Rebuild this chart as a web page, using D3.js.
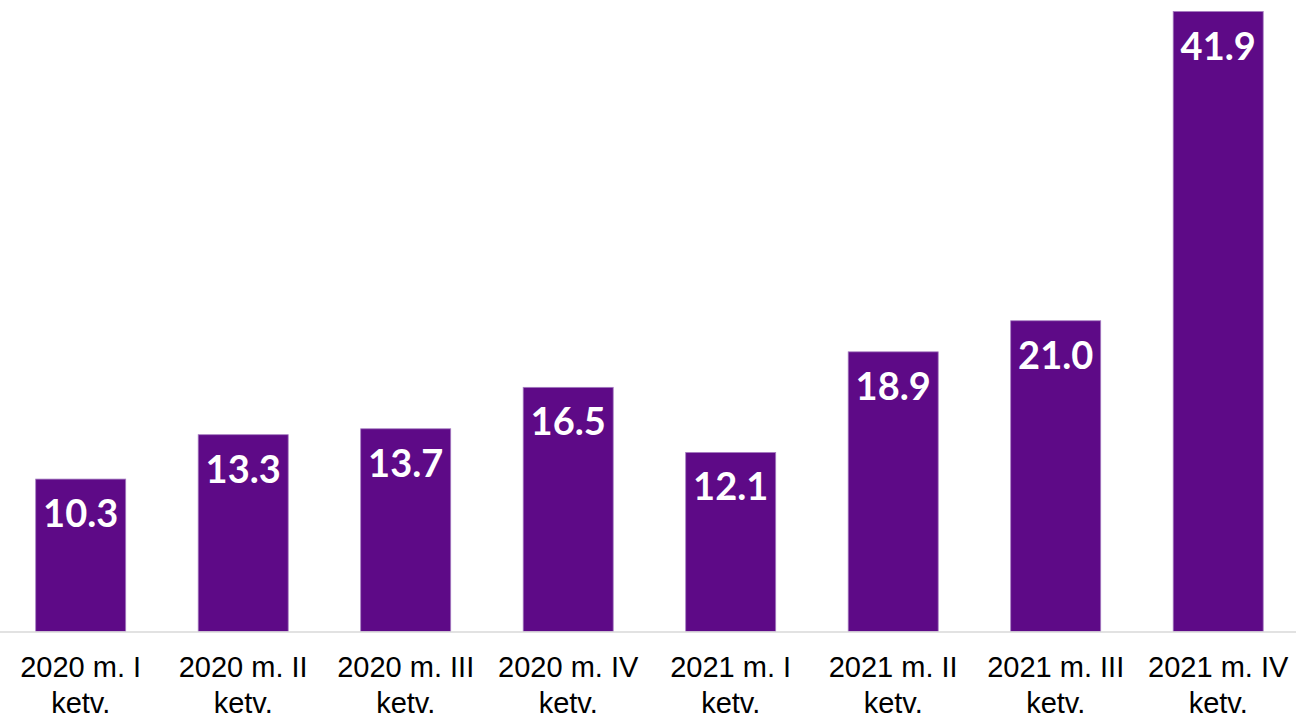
<!DOCTYPE html>
<html>
<head>
<meta charset="utf-8">
<script src="https://cdn.jsdelivr.net/npm/d3@7"></script>
<style>
  html, body { margin: 0; padding: 0; background: #fff; }
  svg { display: block; }
</style>
</head>
<body>
<svg id="chart" width="1296" height="715"></svg>
<script>
const categories = [
  ["2020 m. I", "ketv."],
  ["2020 m. II", "ketv."],
  ["2020 m. III", "ketv."],
  ["2020 m. IV", "ketv."],
  ["2021 m. I", "ketv."],
  ["2021 m. II", "ketv."],
  ["2021 m. III", "ketv."],
  ["2021 m. IV", "ketv."]
];
const values = [10.3, 13.3, 13.7, 16.5, 12.1, 18.9, 21.0, 41.9];

const W = 1296, H = 715;
const svg = d3.select("#chart");
const keys = categories.map(c => c.join(" "));

const step = 162.5, bw = 90;
const pad = (step - bw) / step;
const x0 = 35.7 - (step - bw) / 2;
const x = d3.scaleBand()
  .domain(keys)
  .range([x0, x0 + step * keys.length])
  .paddingInner(pad)
  .paddingOuter(pad / 2);

const baseY = 631.5;
const y = d3.scaleLinear().domain([0, 41.9]).range([baseY, 11.5]);

// bars
svg.append("g").selectAll("rect")
  .data(values)
  .join("rect")
  .attr("x", (d, i) => x(keys[i]))
  .attr("y", d => y(d))
  .attr("width", x.bandwidth())
  .attr("height", d => y(0) - y(d))
  .attr("fill", "#5e0a87")
  .attr("stroke", "#a57cc0")
  .attr("stroke-width", 0.8);

// baseline
svg.append("line")
  .attr("x1", 0).attr("x2", W)
  .attr("y1", baseY + 0.5).attr("y2", baseY + 0.5)
  .attr("stroke", "#d9d9d9")
  .attr("stroke-width", 1.5);

// value labels
svg.append("g").selectAll("text")
  .data(values)
  .join("text")
  .attr("x", (d, i) => x(keys[i]) + x.bandwidth() / 2)
  .attr("y", d => y(d) + 48)
  .attr("text-anchor", "middle")
  .attr("font-family", "Lato, 'Open Sans', sans-serif")
  .attr("font-weight", 700)
  .attr("font-size", 38)
  .attr("fill", "#ffffff")
  .text(d => d.toFixed(1));

// category labels
const cat = svg.append("g").selectAll("text")
  .data(categories)
  .join("text")
  .attr("x", (d, i) => x(keys[i]) + x.bandwidth() / 2)
  .attr("y", 677)
  .attr("text-anchor", "middle")
  .attr("font-family", "'Liberation Sans', Arial, sans-serif")
  .attr("font-size", 29)
  .attr("fill", "#000");
cat.selectAll("tspan")
  .data(d => d)
  .join("tspan")
  .attr("x", function() { return d3.select(this.parentNode).attr("x"); })
  .attr("dy", (d, i) => i === 0 ? 0 : 36)
  .text(d => d);
</script>
</body>
</html>
